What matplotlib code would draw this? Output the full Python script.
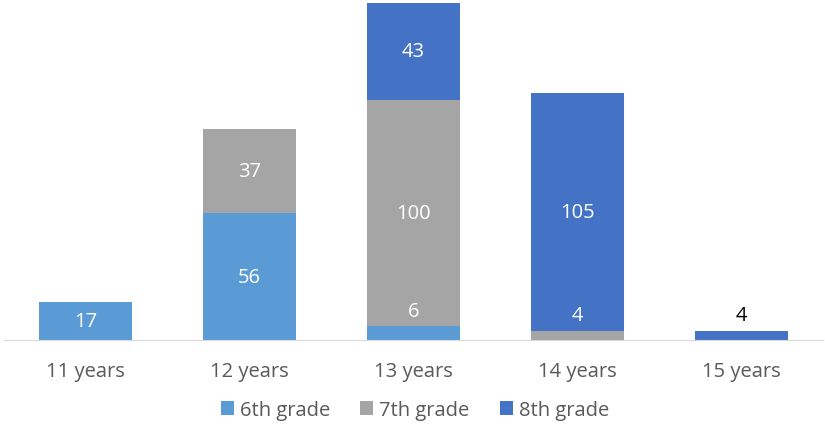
"""
stacked bars: age vs grade
"""

import numpy as np
import matplotlib.pyplot as plt

plt.rcParams['font.family'] = ['Open Sans', 'DejaVu Sans']

ages = ['11 years', '12 years', '13 years', '14 years', '15 years']
grade6 = [17, 56, 6, 0, 0]
grade7 = [0, 37, 100, 4, 0]
grade8 = [0, 0, 43, 105, 4]

series = [('6th grade', grade6, '#5b9bd5'),
          ('7th grade', grade7, '#a5a5a5'),
          ('8th grade', grade8, '#4472c4')]

totals = np.array(grade6) + np.array(grade7) + np.array(grade8)

fig = plt.figure(figsize=(8.25, 4.27), dpi=100)
ax = fig.add_axes([4 / 825, 86 / 427, 819 / 825, 341 / 427])

x = np.arange(len(ages))
bottom = np.zeros(len(ages))
for name, vals, color in series:
    vals = np.array(vals, dtype=float)
    ax.bar(x, vals, 0.567, bottom=bottom, color=color, label=name)
    for i, v in enumerate(vals):
        if v == 0:
            continue
        top = bottom[i] + v
        if v < 10:
            # small segment: label sits just above it
            ypos = top + 7
            col = 'black' if top == totals[i] else 'white'
        else:
            ypos, col = bottom[i] + v / 2, 'white'
        ax.text(x[i], ypos, '%d' % v, ha='center', va='center',
                color=col, fontsize=14.5)
    bottom += vals

ax.set_xlim(-0.5, len(ages) - 0.5)
ax.set_ylim(0, 150.6)
ax.set_xticks(x)
ax.set_xticklabels(ages, fontsize=14.5, color='#595959')
ax.tick_params(axis='x', length=0, pad=15)
ax.set_yticks([])
for s in ['top', 'left', 'right']:
    ax.spines[s].set_visible(False)
ax.spines['bottom'].set_color('#d9d9d9')

fig.legend(loc='center', bbox_to_anchor=(0.503, 16 / 427), ncol=3,
           frameon=False, fontsize=14.5, labelcolor='#595959',
           handlelength=0.65, handleheight=0.65, handletextpad=0.3,
           columnspacing=1.5)

plt.savefig('out.png')
